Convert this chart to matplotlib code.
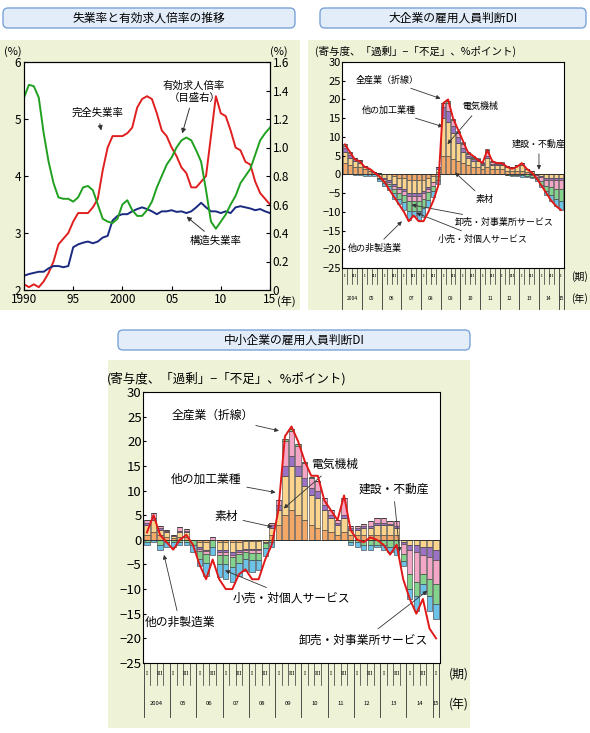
import numpy as np
import matplotlib
matplotlib.use("Agg")
import matplotlib.pyplot as plt
from matplotlib.patches import FancyBboxPatch, Rectangle
import matplotlib.transforms as mtrans

plt.rcParams['font.family'] = ['Noto Sans CJK JP', 'DejaVu Sans']

# ---------- Panel 1 data (half-year points) ----------
years_p1 = [1990 + 0.5 * i for i in range(51)]
unemp = [2.1, 2.05, 2.1, 2.05, 2.15, 2.3, 2.5, 2.8, 2.9, 3.0, 3.2, 3.35, 3.35, 3.35, 3.45, 3.6,
         4.1, 4.5, 4.7, 4.7, 4.7, 4.75, 4.85, 5.2, 5.35, 5.4, 5.35, 5.1, 4.8, 4.7, 4.5, 4.35,
         4.15, 4.05, 3.8, 3.8, 3.9, 4.0, 4.7, 5.4, 5.1, 5.05, 4.8, 4.5, 4.45, 4.25, 4.2, 3.9,
         3.7, 3.6, 3.5]
job_ratio = [1.35, 1.44, 1.43, 1.35, 1.1, 0.9, 0.75, 0.65, 0.64, 0.64, 0.62, 0.65, 0.72, 0.73,
             0.7, 0.6, 0.5, 0.48, 0.47, 0.5, 0.6, 0.63, 0.56, 0.52, 0.52, 0.56, 0.62, 0.72, 0.8,
             0.88, 0.93, 1.0, 1.05, 1.07, 1.05, 0.98, 0.9, 0.7, 0.48, 0.43, 0.48, 0.53, 0.6,
             0.66, 0.75, 0.8, 0.85, 0.95, 1.05, 1.1, 1.14]
structural = [2.25, 2.28, 2.3, 2.32, 2.32, 2.38, 2.42, 2.42, 2.4, 2.42, 2.75, 2.8, 2.83, 2.85,
              2.82, 2.85, 2.92, 2.95, 3.22, 3.3, 3.33, 3.33, 3.38, 3.42, 3.45, 3.42, 3.38, 3.33,
              3.38, 3.38, 3.4, 3.37, 3.38, 3.35, 3.38, 3.45, 3.53, 3.45, 3.38, 3.38, 3.35, 3.38,
              3.35, 3.45, 3.47, 3.45, 3.43, 3.4, 3.42, 3.38, 3.35]

# ---------- Bar panels (quarterly 2004Q1-2015Q1) ----------
year_labels = ['2004', '05', '06', '07', '08', '09', '10', '11', '12', '13', '14', '15']
sectors = ['素材', '他の加工業種', '電気機械', '建設・不動産', '卸売・対事業所サービス', '小売・対個人サービス']
colors = ['#f3a867', '#fbd48e', '#9b72c4', '#f4a6c6', '#84d38c', '#6cc3e8']

large_total = [8, 6, 4, 3.5, 2, 1.5, 0.5, -0.5, -2, -4, -6, -8, -10, -12.5, -11, -12.5,
               -12.5, -10, -7, -3, 19, 20, 15, 12, 9, 6, 5, 4, 3, 6.5, 3.5, 3, 3, 2, 1.5, 2,
               3, 1.5, 0.5, -1, -3, -5, -7, -8.5, -9.5]
large_sozai = [3, 2.5, 2, 2, 1.5, 1, 0.5, 0.3, 0, 0, -0.5, -1, -1, -1.5, -1.5, -1.5, -1.5, -1, -0.5, 0.5,
               5, 5, 4, 3.5, 3, 2.5, 2, 2, 1.5, 2, 1.5, 1.5, 1.5, 1, 1, 1, 1, 0.5, 0.3, 0, 0, 0, 0, 0, 0]
large_kakou = [3, 2, 1.5, 1, 0.5, 0.3, 0, -1, -1, -1.5, -2, -2.5, -3, -3.5, -3.5, -3.5, -3, -2.5, -1.5, 1,
               10, 9, 7, 5, 3, 2, 1.5, 1.5, 1, 2.5, 1, 1, 1, 1, 1, 1.5, 1.5, 1, 0.5, 0, -0.5, -1, -1, -1, -1]
large_denki = [1, 0.8, 0.5, 0.5, 0.3, 0.2, 0, 0, -0.3, -0.5, -0.5, -0.5, -0.5, -0.7, -0.7, -0.7, -0.5, -0.3, 0, 0.5,
               3, 3, 2, 1.5, 1, 0.5, 0.5, 0.3, 0.2, 0.5, 0.3, 0.3, 0.3, 0.2, 0, 0, 0, 0, 0, -0.2, -0.3, -0.5, -0.5, -0.5, -0.5]
large_kensetsu = [0.5, 0.3, 0.3, 0.3, 0, 0, 0, 0, -0.5, -0.5, -1, -1, -1, -1.5, -1.5, -1.5, -1.5, -1, -1, -0.5,
                  1, 2, 1.5, 1, 1, 0.5, 0.5, 0.2, 0.3, 1, 0.5, 0.2, 0.2, 0, 0, 0, 0.5, 0, -0.3, -0.5, -1, -1.5, -2, -2.5, -2.5]
large_oroshi = [0.5, 0.3, 0, 0, 0, 0, 0, -0.3, -0.5, -0.7, -1, -1.5, -2, -2.5, -2.5, -2.5, -2.5, -2, -1.5, -1,
                0, 0.5, 0.3, 0.3, 0.3, 0.2, 0.2, 0.1, 0, 0.5, 0.2, 0, 0, -0.2, -0.3, -0.2, -0.3, -0.5, -0.5, -0.5, -1, -1.5, -2, -2.5, -3]
large_kouri = [0, 0, -0.3, -0.3, -0.5, -0.5, -0.5, -0.5, -0.8, -1, -1.5, -1.5, -2, -2.5, -1.5, -2.5, -2.5, -2, -1.5, -1,
               0, 0, 0, 0.3, 0.3, 0.2, 0.2, 0.2, 0.2, 0.3, 0.2, 0.2, 0.2, 0, -0.2, -0.3, -0.3, -0.2, -0.3, -0.5, -0.5, -1, -1.5, -2, -2.5]

small_total = [1.5, 5, 1, -0.5, -2, 0, 1, -1, -5, -8, -4, -8, -10, -10, -7, -6, -8, -8, -4, -1,
               6, 21, 23, 20, 16, 13, 13, 8, 6, 4, 9, 2, 0, -0.5, 0.5, 0, -1, -3, -1, -8,
               -12, -15, -12, -18, -20]
small_sozai = [1, 1.5, 1, 0.5, 0.3, 0.5, 0.5, 0, -0.5, -0.5, 0, -0.5, -0.5, -0.5, -0.5, -0.3, -0.3, -0.3, 0, 1,
               3, 5, 6, 5, 4, 3, 2.5, 2, 1.5, 1, 1.5, 1, 1, 1, 1, 1, 1, 1, 1, 0, 0, 0, 0, 0, 0]
small_kakou = [2, 2.5, 1, 1, 0.5, 1, 1, 0, -1, -1.5, 0, -1.5, -1.5, -2, -1.5, -1.5, -1.5, -1.5, -0.5, 1.5,
               3, 8, 9, 8, 7, 6, 6, 4, 3, 2, 3, 1, 1, 1.5, 1.5, 2, 2, 2, 1.5, -0.5, -1, -1, -1.5, -1.5, -2]
small_denki = [0.5, 0.5, 0.3, 0.2, 0, 0.2, 0.2, 0, -0.3, -0.3, 0, -0.5, -0.5, -0.5, -0.5, -0.3, -0.3, -0.3, 0, 0.5,
               1, 2, 2, 2, 1.5, 1.5, 1.5, 1, 0.5, 0.5, 0.5, 0.3, 0.3, 0.3, 0.3, 0.5, 0.5, 0.3, 0.3, -0.3, -1, -1.5, -1.5, -2, -2]
small_kensetsu = [0.5, 1, 0.5, 0.3, 0.2, 1, 0.5, 0, -0.5, -0.5, 0.5, -0.5, -0.5, -0.5, -0.3, -0.3, -0.5, -0.5, -0.2, 0.5,
                  1, 5, 5, 4, 3, 2, 2, 1.5, 1, 0.5, 3.5, 0.5, 0.5, 0.5, 1, 1, 1, 0.5, 1, -2, -5, -6, -4, -4.5, -5]
small_oroshi = [-0.5, 0, -1, -0.5, -0.5, -0.5, -0.5, -1, -1.5, -2, -1.5, -2, -2, -2, -2, -1.5, -1.5, -1.5, -1, -0.5,
                0, 0.5, 0.5, 0.5, 0.3, 0.2, 0, 0, 0, 0, 0, -0.5, -0.5, -1, -1, -1, -1, -1.5, -1.5, -1.5, -3, -3, -2, -3.5, -4]
small_kouri = [-0.5, -0.5, -1, -1, -1, -0.5, -0.5, -1.5, -1.5, -2.5, -1.5, -2.5, -3, -3, -2.5, -2.5, -2.5, -2, -1.5, -1,
               0, 0, 0, 0, 0, 0, 0, 0, 0, 0, 0, -0.5, -1, -1, -1, -0.5, -1, -1, -1.5, -1, -2, -3, -2, -3, -3]

BG = '#eef3d8'
fig = plt.figure(figsize=(5.9, 7.33), dpi=100)
fig.patch.set_facecolor('white')

def px(x, y, w, h):
    return [x / 590, 1 - (y + h) / 733, w / 590, h / 733]

# background panels via a full-figure background axes
bgax = fig.add_axes([0, 0, 1, 1], zorder=-10)
bgax.set_xlim(0, 590)
bgax.set_ylim(733, 0)
bgax.axis('off')
for (x, y, w, h) in [(0, 40, 300, 270), (308, 40, 282, 270), (108, 360, 362, 368)]:
    bgax.add_patch(Rectangle((x, y), w, h, facecolor=BG, edgecolor='none'))
for (x, y, w, h, t) in [(3, 8, 292, 20, '失業率と有効求人倍率の推移'),
                        (320, 8, 266, 20, '大企業の雇用人員判断DI'),
                        (118, 330, 352, 20, '中小企業の雇用人員判断DI')]:
    bgax.add_patch(FancyBboxPatch((x, y), w, h, boxstyle='round,pad=0,rounding_size=5',
                                  facecolor='#e3edfa', edgecolor='#7aa3d8', lw=1.0))
    bgax.text(x + w / 2, y + h / 2, t, ha='center', va='center', fontsize=8.5)

# ---------- Panel 1 ----------
ax1 = fig.add_axes(px(24, 62, 246, 228))
ax1.plot(years_p1, unemp, color='#e02020', lw=1.4)
ax1.plot(years_p1, structural, color='#1a2a80', lw=1.4)
ax1.set_xlim(1990, 2015)
ax1.set_ylim(2, 6)
ax1.set_yticks([2, 3, 4, 5, 6])
ax1.set_xticks([1990, 1995, 2000, 2005, 2010, 2015])
ax1.set_xticklabels(['1990', '95', '2000', '05', '10', '15'])
ax1.tick_params(labelsize=8.5, length=3, direction='in', pad=2)
ax1b = ax1.twinx()
ax1b.plot(years_p1, job_ratio, color='#20a020', lw=1.4)
ax1b.set_ylim(0, 1.6)
ax1b.set_yticks([0, 0.2, 0.4, 0.6, 0.8, 1.0, 1.2, 1.4, 1.6])
ax1b.set_yticklabels(['0', '0.2', '0.4', '0.6', '0.8', '1.0', '1.2', '1.4', '1.6'])
ax1b.tick_params(labelsize=8.5, length=3, direction='in', pad=2)
ax1.text(-0.01, 1.02, '(%)', transform=ax1.transAxes, ha='right', va='bottom', fontsize=8)
ax1.text(1.0, 1.02, '(%)', transform=ax1.transAxes, ha='left', va='bottom', fontsize=8)
ax1.text(1.03, -0.025, '(年)', transform=ax1.transAxes, ha='left', va='top', fontsize=8)
ax1.annotate('完全失業率', xy=(1997.9, 4.75), xytext=(1997.5, 5.05), fontsize=7.5, ha='center',
             arrowprops=dict(arrowstyle='-|>', color='#333', lw=0.7, mutation_scale=7))
ax1.annotate('有効求人倍率\n（目盛右）', xy=(2006, 4.7), xytext=(2007.3, 5.32), fontsize=7.5, ha='center',
             arrowprops=dict(arrowstyle='-|>', color='#333', lw=0.7, mutation_scale=7))
ax1.annotate('構造失業率', xy=(2006.3, 3.32), xytext=(2009.5, 2.95), fontsize=7.5, ha='center', va='top',
             arrowprops=dict(arrowstyle='-|>', color='#333', lw=0.7, mutation_scale=7))

def bar_panel(ax, comps, total, fs):
    n = len(total)
    x = np.arange(n)
    pos_b = np.zeros(n)
    neg_b = np.zeros(n)
    for vals, c in zip(comps, colors):
        v = np.array(vals, dtype=float)
        p = np.where(v > 0, v, 0)
        q = np.where(v < 0, v, 0)
        ax.bar(x, p, bottom=pos_b, width=0.8, color=c, edgecolor='#333', lw=0.4)
        ax.bar(x, q, bottom=neg_b, width=0.8, color=c, edgecolor='#333', lw=0.4)
        pos_b += p
        neg_b += q
    ax.plot(x, total, color='#e01818', lw=1.4, zorder=5)
    ax.axhline(0, color='#333', lw=0.5)
    ax.set_xlim(-0.6, n - 0.4)
    ax.set_ylim(-25, 30)
    ax.set_yticks(range(-25, 31, 5))
    ax.set_xticks([])
    ax.tick_params(labelsize=fs, length=2, direction='in', pad=1)
    tr = mtrans.blended_transform_factory(ax.transData, ax.transAxes)
    for i in range(n):
        q = i % 4
        if q == 0:
            ax.plot([i - 0.5, i - 0.5], [0, -0.2], transform=tr, color='#333', lw=0.6, clip_on=False)
        else:
            ax.plot([i - 0.5, i - 0.5], [0, -0.08], transform=tr, color='#333', lw=0.5, clip_on=False)
        if q in (0, 2):
            ax.text(i, -0.04, 'I' if q == 0 else 'III', transform=tr, ha='center', va='center',
                    fontsize=fs * 0.4, family='DejaVu Serif')
    ax.plot([n - 0.5, n - 0.5], [0, -0.2], transform=tr, color='#333', lw=0.6, clip_on=False)
    for k, yl in enumerate(year_labels):
        xc = 4 * k + 1.5 if k < len(year_labels) - 1 else n - 1
        ax.text(xc, -0.15, yl, transform=tr, ha='center', va='center', fontsize=fs * 0.45)
    ax.text(1.03, -0.04, '(期)', transform=ax.transAxes, ha='left', va='center', fontsize=fs * 0.9)
    ax.text(1.03, -0.15, '(年)', transform=ax.transAxes, ha='left', va='center', fontsize=fs * 0.9)
    ax.text(-0.12, 1.025, '(寄与度、「過剰」−「不足」、%ポイント)', transform=ax.transAxes,
            ha='left', va='bottom', fontsize=fs * 0.95)

AP = dict(arrowstyle='-|>', color='#333', lw=0.6, mutation_scale=6)

# ---------- Panel 2 ----------
ax2 = fig.add_axes(px(342, 62, 222, 206))
bar_panel(ax2, [large_sozai, large_kakou, large_denki, large_kensetsu, large_oroshi, large_kouri],
          large_total, 8)
fs2 = 6.5
ax2.annotate('全産業（折線）', xy=(20, 20), xytext=(8.5, 24.5), fontsize=fs2, ha='center', arrowprops=AP)
ax2.annotate('他の加工業種', xy=(20.5, 12.5), xytext=(9, 16.5), fontsize=fs2, ha='center', arrowprops=AP)
ax2.annotate('電気機械', xy=(20.5, 7.5), xytext=(27.5, 17.5), fontsize=fs2, ha='center', arrowprops=AP)
ax2.annotate('建設・不動産', xy=(39.5, 0.5), xytext=(39.5, 7.5), fontsize=fs2, ha='center', arrowprops=AP)
ax2.annotate('素材', xy=(22, 1), xytext=(28.5, -7.5), fontsize=fs2, ha='center', arrowprops=AP)
ax2.annotate('卸売・対事業所サービス', xy=(13, -8), xytext=(32.5, -13.5), fontsize=fs2, ha='center', arrowprops=AP)
ax2.annotate('小売・対個人サービス', xy=(14, -10), xytext=(28, -18), fontsize=fs2, ha='center', arrowprops=AP)
ax2.annotate('他の非製造業', xy=(12, -12), xytext=(6, -20.5), fontsize=fs2, ha='center', arrowprops=AP)

# ---------- Panel 3 ----------
ax3 = fig.add_axes(px(143, 392, 297, 271))
bar_panel(ax3, [small_sozai, small_kakou, small_denki, small_kensetsu, small_oroshi, small_kouri],
          small_total, 9.5)
fs3 = 8.5
ax3.annotate('全産業（折線）', xy=(20.5, 22), xytext=(10, 24.5), fontsize=fs3, ha='center', arrowprops=AP)
ax3.annotate('他の加工業種', xy=(20, 9.5), xytext=(9, 11.5), fontsize=fs3, ha='center', arrowprops=AP)
ax3.annotate('電気機械', xy=(20.5, 6), xytext=(28.5, 14.5), fontsize=fs3, ha='center', arrowprops=AP)
ax3.annotate('建設・不動産', xy=(38.5, -3), xytext=(37.5, 9.5), fontsize=fs3, ha='center', arrowprops=AP)
ax3.annotate('素材', xy=(19.5, 2.5), xytext=(12, 4), fontsize=fs3, ha='center', arrowprops=AP)
ax3.annotate('小売・対個人サービス', xy=(11.5, -6), xytext=(22, -12.5), fontsize=fs3, ha='center', arrowprops=AP)
ax3.annotate('他の非製造業', xy=(2.5, -2.5), xytext=(5, -17.5), fontsize=fs3, ha='center', arrowprops=AP)
ax3.annotate('卸売・対事業所サービス', xy=(43, -10), xytext=(33, -21), fontsize=fs3, ha='center', arrowprops=AP)

fig.savefig('out.png', dpi=100, facecolor='white')
